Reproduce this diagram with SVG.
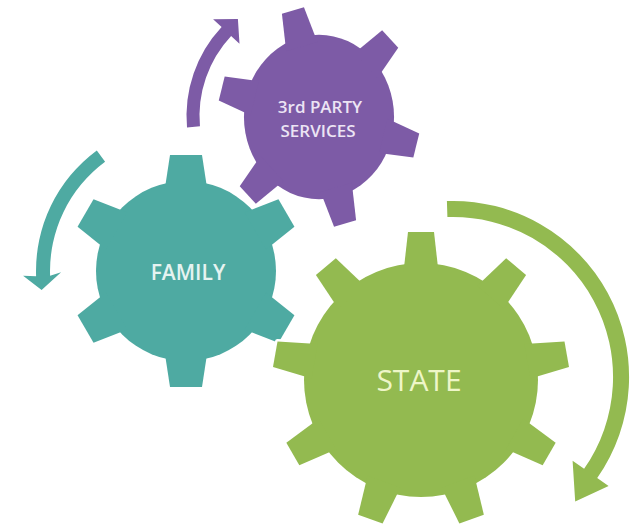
<svg xmlns="http://www.w3.org/2000/svg" xmlns:xlink="http://www.w3.org/1999/xlink" width="638" height="528" viewBox="0 0 638 528">
<style>
  .halo { fill: #ffffff; stroke: #ffffff; stroke-width: 5; stroke-linejoin: round; }
  .purple { fill: #7d5ba6; }
  .teal { fill: #4eaaa2; }
  .green { fill: #93ba50; }
  .lbl { font-family: "Open Sans", "Liberation Sans", sans-serif; text-anchor: middle; }
</style>
<defs>
  <g id="purpleShape">
    <circle cx="0" cy="0" r="79"/>
    <polygon points="-17,-70 -12,-106 12,-106 17,-70" transform="rotate(-15)"/>
    <polygon points="-17,-70 -12,-106 12,-106 17,-70" transform="rotate(45)"/>
    <polygon points="-17,-70 -12,-106 12,-106 17,-70" transform="rotate(105)"/>
    <polygon points="-17,-70 -12,-106 12,-106 17,-70" transform="rotate(165)"/>
    <polygon points="-17,-70 -12,-106 12,-106 17,-70" transform="rotate(225)"/>
    <polygon points="-17,-70 -12,-106 12,-106 17,-70" transform="rotate(285)"/>
  </g>
  <g id="tealShape">
    <circle cx="0" cy="0" r="90"/>
    <polygon points="-21.5,-80 -16,-116 16,-116 21.5,-80"/>
    <polygon points="-21.5,-80 -16,-116 16,-116 21.5,-80" transform="rotate(60)"/>
    <polygon points="-21.5,-80 -16,-116 16,-116 21.5,-80" transform="rotate(120)"/>
    <polygon points="-21.5,-80 -16,-116 16,-116 21.5,-80" transform="rotate(180)"/>
    <polygon points="-21.5,-80 -16,-116 16,-116 21.5,-80" transform="rotate(240)"/>
    <polygon points="-21.5,-80 -16,-116 16,-116 21.5,-80" transform="rotate(300)"/>
  </g>
  <g id="greenShape">
    <circle cx="0" cy="0" r="117"/>
    <polygon points="-17.5,-108 -13,-148 13,-148 17.5,-108"/>
    <polygon points="-17.5,-108 -13,-148 13,-148 17.5,-108" transform="rotate(40)"/>
    <polygon points="-17.5,-108 -13,-148 13,-148 17.5,-108" transform="rotate(80)"/>
    <polygon points="-17.5,-108 -13,-148 13,-148 17.5,-108" transform="rotate(120)"/>
    <polygon points="-17.5,-108 -13,-148 13,-148 17.5,-108" transform="rotate(160)"/>
    <polygon points="-17.5,-108 -13,-148 13,-148 17.5,-108" transform="rotate(200)"/>
    <polygon points="-17.5,-108 -13,-148 13,-148 17.5,-108" transform="rotate(240)"/>
    <polygon points="-17.5,-108 -13,-148 13,-148 17.5,-108" transform="rotate(280)"/>
    <polygon points="-17.5,-108 -13,-148 13,-148 17.5,-108" transform="rotate(320)"/>
  </g>
</defs>
<rect x="0" y="0" width="638" height="528" fill="#ffffff"/>

<g id="connectors">
  <path class="purple" d="M 187.0 127.4 A 130.5 130.5 0 0 1 221.6 27.0 L 213.1 19.2 L 237.9 19.0 L 239.5 43.7 L 231.1 35.9 A 117.5 117.5 0 0 0 199.95 126.2 Z"/>
  <path class="teal" d="M 96.8 150.4 A 150 150 0 0 0 36.1 276.2 L 23.1 275.7 L 41.6 290.0 L 61.1 272.3 L 50.1 275.7 A 136 136 0 0 1 105.1 161.7 Z"/>
  <path class="green" d="M 446.9 201.1 A 176 176 0 0 1 597.2 478.0 L 608.6 486.0 L 575.2 501.6 L 572.6 460.7 L 584.1 468.8 A 160 160 0 0 0 447.4 217.1 Z"/>
</g>

<g id="services">
  <use xlink:href="#purpleShape" href="#purpleShape" class="halo" transform="translate(319 117) scale(0.95 1.04)"/>
  <use xlink:href="#purpleShape" href="#purpleShape" class="purple" transform="translate(319 117) scale(0.95 1.04)"/>
  <text class="lbl" x="320" y="113" font-size="17" font-weight="600" fill="#ece4f4">3rd PARTY</text>
  <text class="lbl" x="318" y="137" font-size="17" font-weight="600" fill="#ece4f4">SERVICES</text>
</g>

<g id="family">
  <use xlink:href="#tealShape" href="#tealShape" class="halo" transform="translate(186 271)"/>
  <use xlink:href="#tealShape" href="#tealShape" class="teal" transform="translate(186 271)"/>
  <text class="lbl" x="188" y="280" font-size="21" font-weight="600" fill="#e6f3f1">FAMILY</text>
</g>

<g id="state">
  <use xlink:href="#greenShape" href="#greenShape" class="halo" transform="translate(421 380)"/>
  <use xlink:href="#greenShape" href="#greenShape" class="green" transform="translate(421 380)"/>
  <text class="lbl" x="419" y="391" font-size="30" fill="#eef6c8">STATE</text>
</g>
</svg>
